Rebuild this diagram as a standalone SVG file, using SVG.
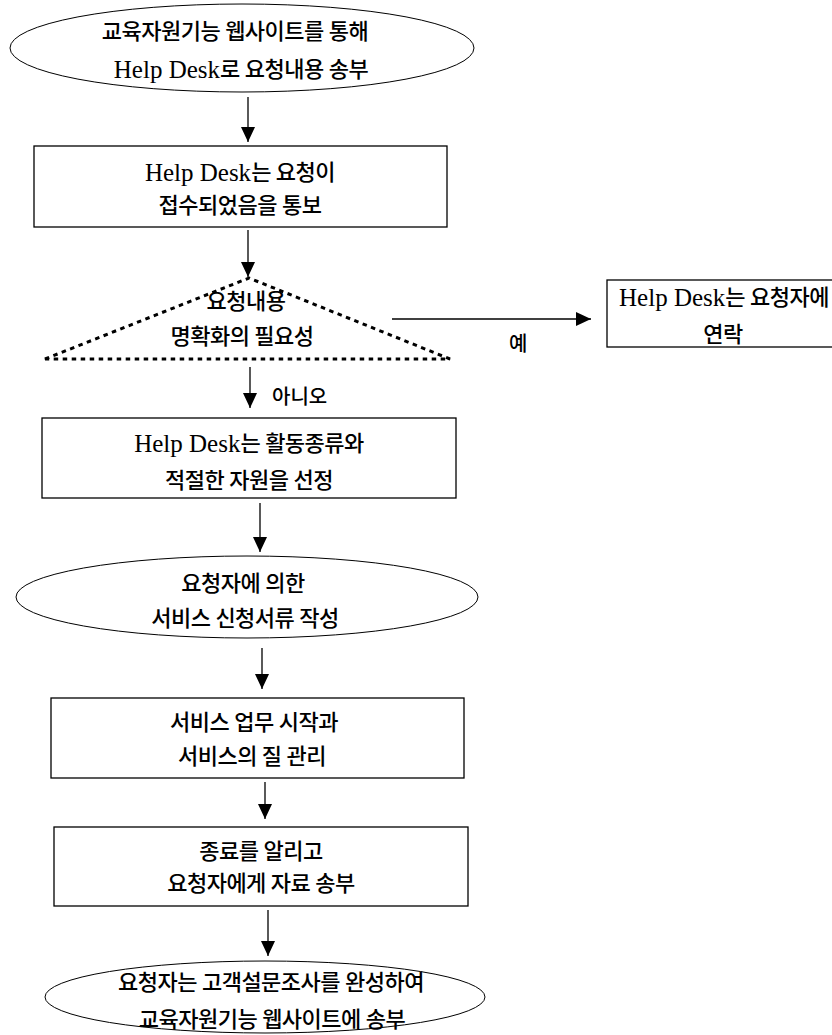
<svg xmlns="http://www.w3.org/2000/svg" width="832" height="1035" viewBox="0 0 832 1035">
<defs>
<marker id="ah" markerUnits="userSpaceOnUse" markerWidth="15" markerHeight="14" refX="15" refY="7" orient="auto"><path d="M0,0 L15,7 L0,14 Z" fill="#000"/></marker>
<style>
.shape{fill:#fff;stroke:#000;stroke-width:1.3}
.ell{fill:#fff;stroke:#000;stroke-width:1}
.dot{fill:none;stroke:#000;stroke-width:3;stroke-dasharray:4.5 4.5}
.t{font-family:"Liberation Serif","Noto Sans CJK KR",serif;font-size:22px;letter-spacing:-0.5px;font-weight:500;text-anchor:middle;dominant-baseline:central;fill:#000}
.lat{font-size:25px;font-weight:400;letter-spacing:0}
.lbl{font-family:"Liberation Serif","Noto Sans CJK KR",serif;font-size:20px;font-weight:500;dominant-baseline:central;fill:#000}
.c{stroke:#000;stroke-width:1.3;fill:none;marker-end:url(#ah)}
</style>
</defs>
<rect width="832" height="1035" fill="#fff"/>
<g id="connectors">
<line class="c" x1="248" y1="97" x2="248" y2="142"/>
<line class="c" x1="248" y1="230" x2="248" y2="277"/>
<line class="c" x1="392" y1="319" x2="591" y2="319"/>
<line class="c" x1="250" y1="367" x2="250" y2="408"/>
<line class="c" x1="260" y1="503" x2="260" y2="552"/>
<line class="c" x1="262" y1="648" x2="262" y2="689"/>
<line class="c" x1="265" y1="782" x2="265" y2="819"/>
<line class="c" x1="268" y1="910" x2="268" y2="956"/>
<text class="lbl" x="509" y="344">예</text>
<text class="lbl" x="272" y="397">아니오</text>
</g>
<g id="n1">
<ellipse class="ell" cx="242" cy="48" rx="232" ry="44"/>
<text class="t" x="235" y="31">교육자원기능 웹사이트를 통해</text>
<text class="t" x="241" y="69"><tspan class="lat">Help Desk</tspan>로 요청내용 송부</text>
</g>
<g id="n2">
<rect class="shape" x="34" y="146" width="413" height="81"/>
<text class="t" x="240" y="172"><tspan class="lat">Help Desk</tspan>는 요청이</text>
<text class="t" x="240" y="205">접수되었음을 통보</text>
</g>
<g id="n3">
<path class="dot" d="M45,359 L249,278 L450,359 Z"/>
<text class="t" x="246" y="301">요청내용</text>
<text class="t" x="242" y="336">명확화의 필요성</text>
</g>
<g id="n4">
<rect class="shape" x="607" y="280" width="240" height="67"/>
<text class="t" x="724" y="297"><tspan class="lat">Help Desk</tspan>는 요청자에</text>
<text class="t" x="723" y="334">연락</text>
</g>
<g id="n5">
<rect class="shape" x="42" y="418" width="414" height="80"/>
<text class="t" x="249" y="443"><tspan class="lat">Help Desk</tspan>는 활동종류와</text>
<text class="t" x="249" y="480">적절한 자원을 선정</text>
</g>
<g id="n6">
<ellipse class="ell" cx="247" cy="597" rx="231" ry="41"/>
<text class="t" x="243" y="583">요청자에 의한</text>
<text class="t" x="245" y="618">서비스 신청서류 작성</text>
</g>
<g id="n7">
<rect class="shape" x="51" y="698" width="413" height="80"/>
<text class="t" x="254" y="722">서비스 업무 시작과</text>
<text class="t" x="252" y="756">서비스의 질 관리</text>
</g>
<g id="n8">
<rect class="shape" x="54" y="827" width="414" height="79"/>
<text class="t" x="261" y="851">종료를 알리고</text>
<text class="t" x="261" y="883">요청자에게 자료 송부</text>
</g>
<g id="n9">
<ellipse class="ell" cx="265" cy="997" rx="220" ry="36"/>
<text class="t" x="271" y="982">요청자는 고객설문조사를 완성하여</text>
<text class="t" x="272" y="1019">교육자원기능 웹사이트에 송부</text>
</g>
</svg>
